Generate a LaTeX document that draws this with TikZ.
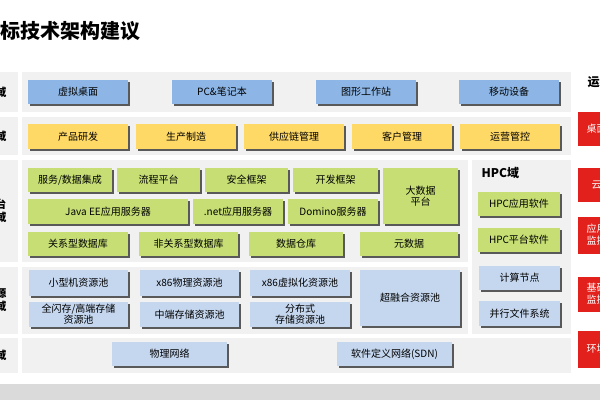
\documentclass[tikz,border=0pt]{standalone}
\usepackage{fontspec}
\setmainfont{Noto Sans CJK SC}
\usetikzlibrary{shadows}
\definecolor{bg}{HTML}{F1F1F1}
\definecolor{bluebox}{HTML}{8DB6E6}
\definecolor{yelbox}{HTML}{FFD966}
\definecolor{grnbox}{HTML}{C6DE74}
\definecolor{lbbox}{HTML}{C5D7EF}
\definecolor{redbox}{HTML}{E3211C}
\definecolor{band}{HTML}{DADADA}
\tikzset{
 bx/.style={draw=none,align=center,font=\fontsize{10}{11}\selectfont,inner sep=0pt,
   drop shadow={shadow xshift=1.5pt,shadow yshift=-1.5pt,fill=black!65,opacity=1}},
 blu/.style={bx,fill=bluebox},
 yel/.style={bx,fill=yelbox},
 grn/.style={bx,fill=grnbox},
 lb/.style={bx,fill=lbbox},
 red/.style={fill=redbox,draw=none},
}
\newcommand{\bx}[7]{\node[#6,minimum width=#4pt-#2pt,minimum height=#5pt-#3pt] (#1) at ({(#2+#4)/2},{(#3+#5)/2}) {#7};}
\newcommand{\pnl}[5]{\fill[bg] (#2,#3) rectangle (#4,#5) coordinate (#1);}
\begin{document}
\begin{tikzpicture}[x=1pt,y=-1pt]
\useasboundingbox (0,0) rectangle (600,400);
\clip (0,0) rectangle (600,400);
\fill[white] (0,0) rectangle (600,400);
\node[anchor=west,font=\fontsize{20}{22}\selectfont\bfseries] (title) at (-3,31) {标技术架构建议};
% left label panels
\pnl{l1}{0}{72}{18}{112}
\pnl{l2}{0}{117}{18}{155}
\pnl{l3}{0}{160}{18}{262}
\pnl{l4}{0}{267}{18}{334}
\pnl{l5}{0}{338}{18}{373}
\node[anchor=east,font=\fontsize{11}{12}\selectfont\bfseries] (t1) at (10,92) {终端域};
\node[anchor=east,font=\fontsize{11}{12}\selectfont\bfseries] (t2) at (10,136) {应用域};
\node[anchor=east,font=\fontsize{11}{13}\selectfont\bfseries,align=right] (t3) at (10,211) {平台\\服务域};
\node[anchor=east,font=\fontsize{11}{13}\selectfont\bfseries,align=right] (t4) at (10,300) {基础资源\\设施域};
\node[anchor=east,font=\fontsize{11}{12}\selectfont\bfseries] (t5) at (10,355) {网络域};
% main panels
\pnl{p1}{22}{72}{571}{112}
\pnl{p2}{22}{117}{571}{155}
\pnl{p3}{22}{160}{468}{262}
\pnl{p4}{22}{267}{468}{334}
\pnl{ph}{472}{160}{571}{334}
\pnl{p5}{22}{338}{571}{373}
\fill[band] (0,384) rectangle (600,400);
% row 1
\bx{a1}{28}{80}{128}{104}{blu}{虚拟桌面}
\bx{a2}{172}{80}{272}{104}{blu}{PC\&笔记本}
\bx{a3}{316}{80}{416}{104}{blu}{图形工作站}
\bx{a4}{459}{80}{559}{104}{blu}{移动设备}
% row 2
\bx{b1}{28}{124}{128}{149}{yel}{产品研发}
\bx{b2}{136}{124}{236}{149}{yel}{生产制造}
\bx{b3}{244}{124}{344}{149}{yel}{供应链管理}
\bx{b4}{352}{124}{452}{149}{yel}{客户管理}
\bx{b5}{460}{124}{560}{149}{yel}{运营管控}
% row 3
\bx{c1}{28}{168}{112}{192}{grn}{服务/数据集成}
\bx{c2}{117}{168}{200}{192}{grn}{流程平台}
\bx{c3}{205}{168}{288}{192}{grn}{安全框架}
\bx{c4}{293}{168}{378}{192}{grn}{开发框架}
\bx{c5}{383}{168}{458}{224}{grn}{大数据\\平台}
\bx{c6}{28}{199}{188}{224}{grn}{Java EE应用服务器}
\bx{c7}{193}{199}{283}{224}{grn}{.net应用服务器}
\bx{c8}{288}{199}{378}{224}{grn}{Domino服务器}
\bx{c9}{28}{232}{128}{256}{grn}{关系型数据库}
\bx{c10}{139}{232}{238}{256}{grn}{非关系型数据库}
\bx{c11}{249}{232}{343}{256}{grn}{数据仓库}
\bx{c12}{360}{232}{458}{256}{grn}{元数据}
% HPC
\node[anchor=west,font=\fontsize{12}{13}\selectfont\bfseries] (hpc) at (478,173) {HPC域};
\bx{h1}{478}{192}{560}{216}{grn}{HPC应用软件}
\bx{h2}{478}{228}{560}{252}{grn}{HPC平台软件}
\bx{h3}{479}{266}{560}{290}{lb}{计算节点}
\bx{h4}{479}{301}{560}{326}{lb}{并行文件系统}
% row 4
\bx{d1}{29}{270}{128}{296}{lb}{小型机资源池}
\bx{d2}{140}{270}{239}{296}{lb}{x86物理资源池}
\bx{d3}{250}{270}{350}{296}{lb}{x86虚拟化资源池}
\bx{d4}{360}{270}{460}{326}{lb}{超融合资源池}
\bx{d5}{29}{302}{128}{327}{lb}{全闪存/高端存储\\资源池}
\bx{d6}{140}{302}{239}{327}{lb}{中端存储资源池}
\bx{d7}{250}{302}{350}{327}{lb}{分布式\\存储资源池}
% row 5
\bx{e1}{112}{342}{227}{366}{lb}{物理网络}
\bx{e2}{337}{342}{452}{366}{lb}{软件定义网络(SDN)}
% right column
\node[anchor=west,font=\fontsize{12}{13}\selectfont\bfseries] (ops) at (584,82) {运维管理};
\fill[red] (578,112) rectangle (610,146) coordinate (r1);
\fill[red] (578,168) rectangle (610,202) coordinate (r2);
\fill[red] (578,217) rectangle (610,254) coordinate (r3);
\fill[red] (578,277) rectangle (610,312) coordinate (r4);
\fill[red] (578,331) rectangle (610,368) coordinate (r5);
\node[anchor=west,text=white,font=\fontsize{10}{11}\selectfont] (rt1) at (583,129) {桌面运维};
\node[anchor=west,text=white,font=\fontsize{10}{11}\selectfont] (rt2) at (588,185) {云管平台};
\node[anchor=west,text=white,font=\fontsize{10}{12}\selectfont,align=left] (rt3) at (583,235) {应用运维\\监控};
\node[anchor=west,text=white,font=\fontsize{10}{12}\selectfont,align=left] (rt4) at (583,294) {基础设施\\监控};
\node[anchor=west,text=white,font=\fontsize{10}{11}\selectfont] (rt5) at (583,349) {环境监控};
\end{tikzpicture}
\end{document}
